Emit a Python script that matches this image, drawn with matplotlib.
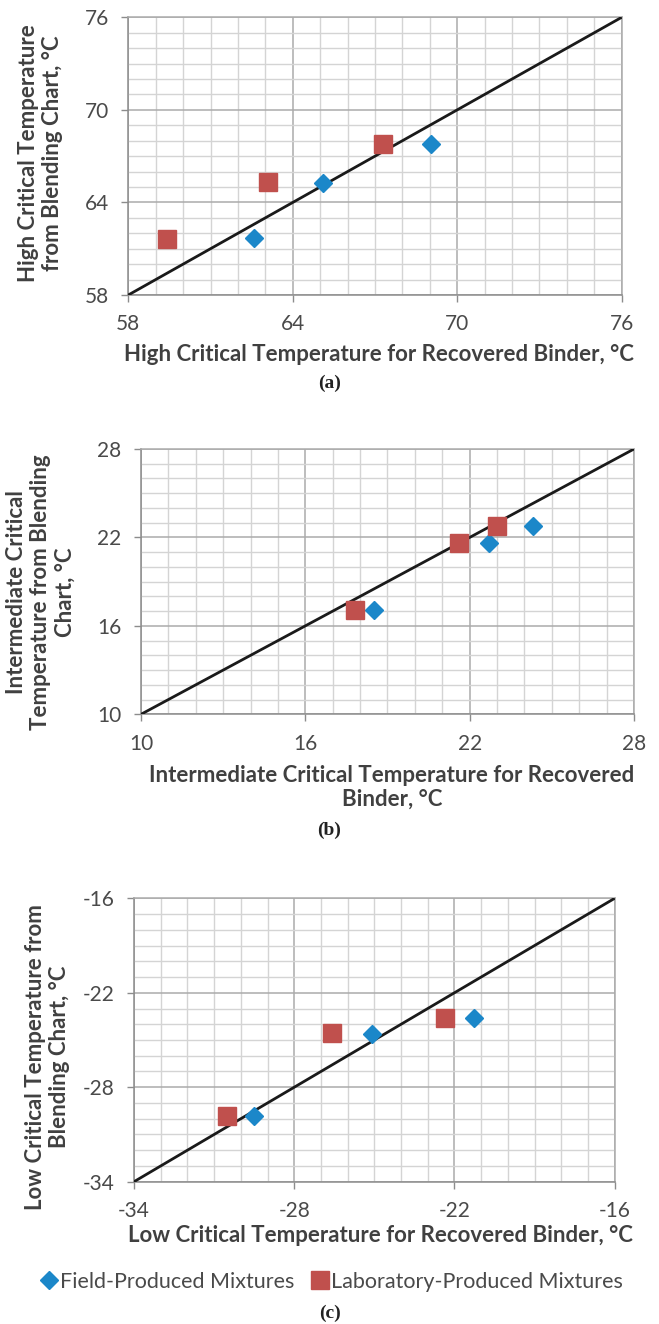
import numpy as np
import matplotlib
matplotlib.use('Agg')
import matplotlib.pyplot as plt
from matplotlib.ticker import MultipleLocator
from matplotlib.lines import Line2D

plt.rcParams['font.family'] = ['Lato', 'DejaVu Sans']
plt.rcParams['axes.unicode_minus'] = False

# (a) high critical temperature
high_field_x = [62.6, 65.1, 69.05]
high_field_y = [61.7, 65.25, 67.8]
high_lab_x = [59.4, 63.1, 67.3]
high_lab_y = [61.6, 65.3, 67.8]
high_ticks = [58, 64, 70, 76]

# (b) intermediate critical temperature
int_field_x = [18.5, 22.7, 24.3]
int_field_y = [17.05, 21.6, 22.8]
int_lab_x = [17.8, 21.6, 23.0]
int_lab_y = [17.05, 21.65, 22.8]
int_ticks = [10, 16, 22, 28]

# (c) low critical temperature
low_field_x = [-29.5, -25.1, -21.25]
low_field_y = [-29.8, -24.6, -23.6]
low_lab_x = [-30.5, -26.6, -22.35]
low_lab_y = [-29.8, -24.55, -23.6]
low_ticks = [-34, -28, -22, -16]

blue = '#1b87c9'
red = '#c0504d'
txt = '#404040'

W, H = 659, 1324
fig = plt.figure(figsize=(W / 100, H / 100), dpi=100)


def box(l, r, t, b):
    return [l / W, 1 - b / H, (r - l) / W, (b - t) / H]


def panel(rect, fx, fy, lx, ly, ticks, xlab, ylab, xlab_pos, ylab_pos):
    ax = fig.add_axes(rect)
    lo, hi = ticks[0], ticks[-1]
    ax.set_xlim(lo, hi)
    ax.set_ylim(lo, hi)
    ax.xaxis.set_major_locator(MultipleLocator(6))
    ax.yaxis.set_major_locator(MultipleLocator(6))
    ax.xaxis.set_minor_locator(MultipleLocator(1))
    ax.yaxis.set_minor_locator(MultipleLocator(1))
    ax.grid(which='minor', color='#d4d4d4', linewidth=1.0)
    ax.grid(which='major', color='#ababab', linewidth=1.1)
    ax.set_axisbelow(True)
    for s in ax.spines.values():
        s.set_color('#ababab')
        s.set_linewidth(1.1)
    ax.spines['left'].set_color('#8c8c8c')
    ax.spines['bottom'].set_color('#8c8c8c')
    ax.tick_params(which='major', length=5, width=1, color='#8c8c8c',
                   labelsize=15, labelcolor='#4a4a4a', pad=9)
    ax.tick_params(which='minor', length=0)
    ax.set_xticks(ticks)
    ax.set_yticks(ticks)
    ax.plot([lo, hi], [lo, hi], color='#1a1a1a', linewidth=2.0, zorder=3,
            solid_capstyle='butt')
    ax.plot(fx, fy, linestyle='none', marker='D', markersize=9.5, color=blue,
            zorder=4)
    ax.plot(lx, ly, linestyle='none', marker='s', markersize=13, color=red,
            zorder=4)
    ax.set_xlabel(xlab, fontsize=16, fontweight='bold', color=txt,
                  linespacing=1.15)
    ax.xaxis.set_label_coords(*xlab_pos)
    ax.xaxis.label.set_va('center')
    ax.set_ylabel(ylab, fontsize=16, fontweight='bold', color=txt,
                  linespacing=1.2)
    ax.yaxis.set_label_coords(*ylab_pos)
    ax.yaxis.label.set_va('center')
    return ax


panel(box(128.3, 621.7, 17.3, 295), high_field_x, high_field_y, high_lab_x,
      high_lab_y, high_ticks,
      'High Critical Temperature for Recovered Binder, \u00b0C',
      'High Critical Temperature\nfrom Blending Chart, \u00b0C',
      (0.507, -0.216), (-0.178, 0.511))

panel(box(141, 634, 449, 714.3), int_field_x, int_field_y, int_lab_x,
      int_lab_y, int_ticks,
      'Intermediate Critical Temperature for Recovered\nBinder, \u00b0C',
      'Intermediate Critical\nTemperature from Blending\nChart, \u00b0C',
      (0.509, -0.274), (-0.203, 0.461))

panel(box(134, 614.7, 898.3, 1181.7), low_field_x, low_field_y, low_lab_x,
      low_lab_y, low_ticks,
      'Low Critical Temperature for Recovered Binder, \u00b0C',
      'Low Critical Temperature from\nBlending Chart, \u00b0C',
      (0.512, -0.19), (-0.18, 0.44))

for lab, yy in [('(a)', 383), ('(b)', 830), ('(c)', 1313)]:
    fig.text(0.5, 1 - yy / H, lab, ha='center', va='center', fontsize=14,
             fontweight='bold', family='Liberation Serif', color='#222222')

handles = [
    Line2D([], [], linestyle='none', marker='D', markersize=9.5, color=blue),
    Line2D([], [], linestyle='none', marker='s', markersize=13, color=red),
]
fig.legend(handles, ['Field-Produced Mixtures', 'Laboratory-Produced Mixtures'],
           loc='center', bbox_to_anchor=(333 / W, 1 - 1282 / H), ncol=2,
           frameon=False, fontsize=15.5, handlelength=0.6, handletextpad=0.2,
           columnspacing=0.9, labelcolor='#4a4a4a')

fig.savefig('out.png', dpi=100)
